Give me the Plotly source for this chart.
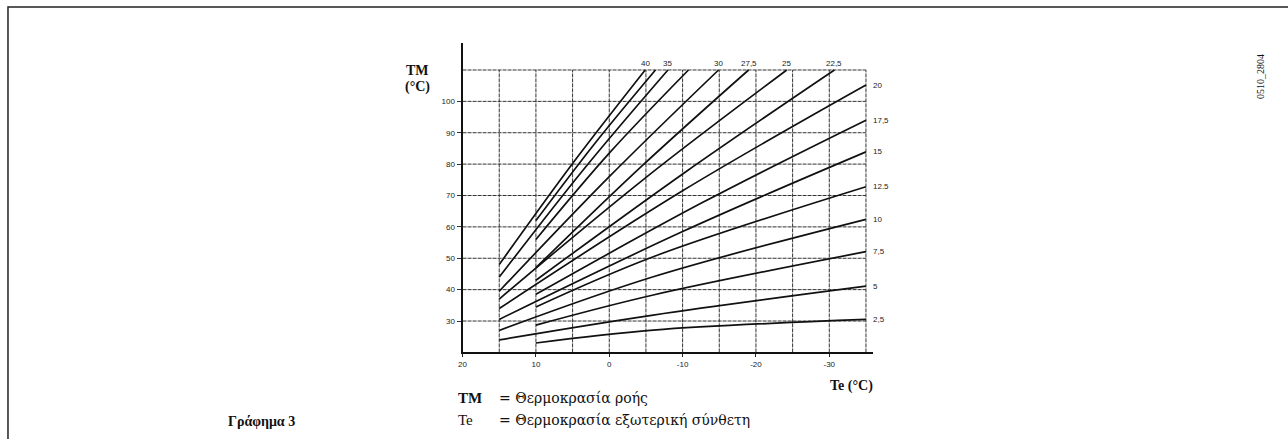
import plotly.graph_objects as go

# ---------------- data ----------------
curve_k = [2.5, 5, 7.5, 10, 12.5, 15, 17.5, 20, 22.5, 25, 27.5, 30, 32.5, 35, 37.5, 40]
curve_te = [
    [10, -6, -35],
    [15, -6, -35],
    [10, -6, -35],
    [15, -6, -35],
    [10, -6, -35],
    [15, -10, -35],
    [10, -12.5, -35],
    [15, -10, -35],
    [10, -10.4, -30.7],
    [15, -4.6, -24.2],
    [10, -4.5, -19.0],
    [15, 0, -14.9],
    [10, 0, -10.8],
    [15, 3.5, -8.0],
    [10, 2, -6.3],
    [15, 5, -4.9],
]
curve_tm = [
    [23, 27.1, 30.5],
    [24, 31.9, 41.1],
    [28.7, 38.3, 52.1],
    [27, 44.1, 62.4],
    [34.5, 50.5, 72.8],
    [30.5, 58.5, 83.9],
    [38.5, 67.5, 94.0],
    [34, 71.5, 105.2],
    [43, 77.5, 110],
    [37, 75.0, 110],
    [47, 79.5, 110],
    [39.5, 76.0, 110],
    [56, 83.5, 110],
    [44, 78.3, 110],
    [62, 86.5, 110],
    [48, 80.2, 110],
]
top_labels = {40: "40", 35: "35", 30: "30", 27.5: "27,5", 25: "25", 22.5: "22,5"}
right_labels = {20: "20", 17.5: "17,5", 15: "15", 12.5: "12.5", 10: "10", 7.5: "7,5", 5: "5", 2.5: "2,5"}
x_ticks = [20, 10, 0, -10, -20, -30]
y_ticks = [30, 40, 50, 60, 70, 80, 90, 100]
grid_te = [15, 10, 5, 0, -5, -10, -15, -20, -25, -30, -35]
grid_tm = [30, 40, 50, 60, 70, 80, 90, 100, 110]

W, H = 1288, 439
def px(x):
    return x / W
def py(y):
    return 1 - y / H

fig = go.Figure()
for k, te, tm in zip(curve_k, curve_te, curve_tm):
    fig.add_trace(go.Scatter(x=te, y=tm, mode="lines",
                             line=dict(color="#111", width=1.7, shape="spline", smoothing=1.0),
                             hoverinfo="skip", showlegend=False))

shapes = []
grid_line = dict(color="#333", width=1, dash="4px,1px")
for te in grid_te:
    shapes.append(dict(type="line", xref="x", yref="y", x0=te, x1=te, y0=20, y1=110,
                       line=grid_line, layer="below"))
for tm in grid_tm:
    shapes.append(dict(type="line", xref="x", yref="y", x0=20, x1=-35, y0=tm, y1=tm,
                       line=grid_line, layer="below"))
# outer frame
shapes.append(dict(type="rect", xref="paper", yref="paper", x0=px(4), x1=px(1300),
                   y0=py(470), y1=py(7), line=dict(color="#222", width=1.5)))

annotations = []
tick_font = dict(family="Liberation Sans, Arial", size=8, color="#222")
for k, te, tm in zip(curve_k, curve_te, curve_tm):
    if k in top_labels:
        annotations.append(dict(x=te[-1], y=tm[-1], xref="x", yref="y", text=top_labels[k],
                                showarrow=False, xanchor="center", yanchor="bottom", yshift=0,
                                font=tick_font))
    if k in right_labels:
        annotations.append(dict(x=te[-1], y=tm[-1], xref="x", yref="y", text=right_labels[k],
                                showarrow=False, xanchor="left", yanchor="middle", xshift=5,
                                font=tick_font))

serif = "Liberation Serif, Times New Roman, serif"
wide_serif = "DejaVu Serif, serif"
def txt(x, y, s, size=14, xanchor="left", bold=False, angle=0, family=serif):
    annotations.append(dict(x=px(x), y=py(y), xref="paper", yref="paper",
                            text=("<b>%s</b>" % s) if bold else s, showarrow=False,
                            xanchor=xanchor, yanchor="middle", textangle=angle,
                            font=dict(family=family, size=size, color="#111")))

txt(415, 71, "TM", 14, "center", True)
txt(415, 87, "(°C)", 14, "center", True)
txt(850, 386, "Te (°C)", 14, "center", True)
txt(453, 398, "TM", 15, "left", True)
txt(495, 398, "= Θερμοκρασία ροής", 14, "left", family=wide_serif)
txt(453, 420, "Te", 15, "left")
txt(495, 420, "= Θερμοκρασία εξωτερική σύνθετη", 14, "left", family=wide_serif)
txt(223, 421, "Γράφημα 3", 14, "left", True)
txt(1261, 77, "0510_2804", 10, "center", False, -90)

fig.update_layout(
    width=W, height=H,
    margin=dict(l=0, r=0, t=0, b=0),
    paper_bgcolor="white", plot_bgcolor="white",
    shapes=shapes, annotations=annotations,
    xaxis=dict(domain=[px(460), px(872)], range=[20, -36], tickvals=x_ticks,
               ticktext=[str(v) for v in x_ticks], showgrid=False, zeroline=False,
               showline=True, linecolor="#111", linewidth=2, ticks="outside",
               ticklen=3, tickcolor="#222", tickfont=tick_font),
    yaxis=dict(domain=[py(352.4), py(43)], range=[20, 118.6], tickvals=y_ticks,
               ticktext=[str(v) for v in y_ticks], showgrid=False, zeroline=False,
               showline=True, linecolor="#111", linewidth=2, ticks="outside",
               ticklen=4, tickcolor="#333", tickfont=tick_font),
)
fig.write_html("out.html", config={"displayModeBar": False},
               post_script="document.body.style.margin='0px';")
